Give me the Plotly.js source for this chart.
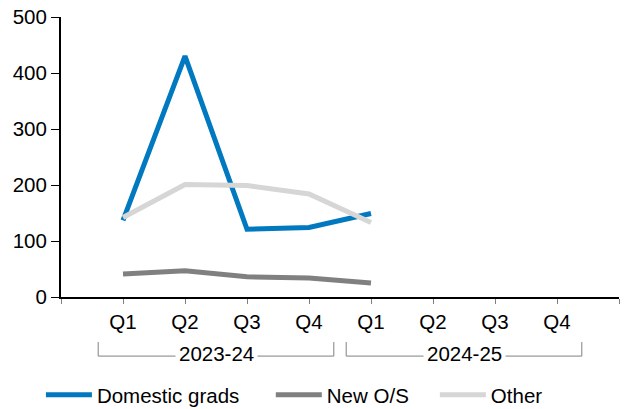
<!DOCTYPE html>
<html>
<head>
<meta charset="utf-8">
<script src="https://cdn.plot.ly/plotly-3.0.1.min.js"></script>
<style>html,body{margin:0;padding:0;background:#fff;}#chart{width:624px;height:409px;}</style>
</head>
<body>
<div id="chart"></div>
<script>
// Data
const quarters = ['Q1', 'Q2', 'Q3', 'Q4', 'Q1', 'Q2', 'Q3', 'Q4'];
const years = ['2023-24', '2024-25'];
const domesticGrads = [137, 430, 121, 124, 149];
const newOS = [41, 47, 36, 34, 25];
const other = [142, 201, 199, 184, 133];

const xIdx = quarters.map((_, i) => i);
const FONT = '"Liberation Sans", Arial, sans-serif';
const FS = 20.5;

function xs(arr) { return arr.map((_, i) => xIdx[i]); }

const traces = [
  {name: 'Domestic grads', legend: 'legend', x: xs(domesticGrads), y: domesticGrads, type: 'scatter', mode: 'lines',
   line: {color: '#0079C1', width: 5}},
  {name: 'New O/S', legend: 'legend2', x: xs(newOS), y: newOS, type: 'scatter', mode: 'lines',
   line: {color: '#808080', width: 5}},
  {name: 'Other', legend: 'legend3', x: xs(other), y: other, type: 'scatter', mode: 'lines',
   line: {color: '#D6D6D6', width: 5}}
];

// Year group brackets under the axis
const shapes = [];
const annotations = [];
years.forEach((yr, g) => {
  const x0 = g * 4 - 0.4, x1 = g * 4 + 3.4;
  shapes.push({type: 'path', xref: 'x', yref: 'paper',
    path: `M${x0},-0.161 L${x0},-0.211 L${x1},-0.211 L${x1},-0.161`,
    line: {color: '#808080', width: 1}});
  annotations.push({xref: 'x', yref: 'paper', x: g * 4 + 1.5, y: -0.2, text: yr,
    showarrow: false, bgcolor: '#ffffff', borderpad: 3, yanchor: 'middle',
    font: {family: FONT, size: FS, color: '#000'}});
});

const tickvals = [-1].concat(xIdx, [quarters.length]);
const ticktext = [''].concat(quarters, ['']);

function legendAt(x) {
  return {orientation: 'h', x: x, xanchor: 'left', y: -0.35, yanchor: 'middle',
    font: {family: FONT, size: FS, color: '#000'}, itemwidth: 46, bgcolor: 'rgba(0,0,0,0)'};
}

const layout = {
  width: 624, height: 409,
  margin: {l: 61, r: 5, t: 17, b: 112, pad: 0, autoexpand: false},
  paper_bgcolor: '#fff', plot_bgcolor: '#fff',
  font: {family: FONT, size: FS, color: '#000'},
  showlegend: true,
  legend: legendAt(-0.036),
  legend2: legendAt(0.376),
  legend3: legendAt(0.670),
  xaxis: {range: [-1, quarters.length], tickmode: 'array', tickvals: tickvals, ticktext: ticktext,
    showgrid: false, zeroline: false, showline: true, linecolor: '#000', linewidth: 2,
    ticks: 'outside', ticklen: 5, tickcolor: '#808080', tickwidth: 1,
    tickfont: {family: FONT, size: FS, color: '#000'}, fixedrange: true},
  yaxis: {range: [0, 500], dtick: 100, tick0: 0, showgrid: false, zeroline: false,
    showline: true, linecolor: '#000', linewidth: 2,
    ticks: 'outside', ticklen: 8, tickcolor: '#000', tickwidth: 1,
    tickfont: {family: FONT, size: FS, color: '#000'}, fixedrange: true},
  shapes: shapes,
  annotations: annotations
};

Plotly.newPlot('chart', traces, layout, {displayModeBar: false, staticPlot: true});
</script>
</body>
</html>
